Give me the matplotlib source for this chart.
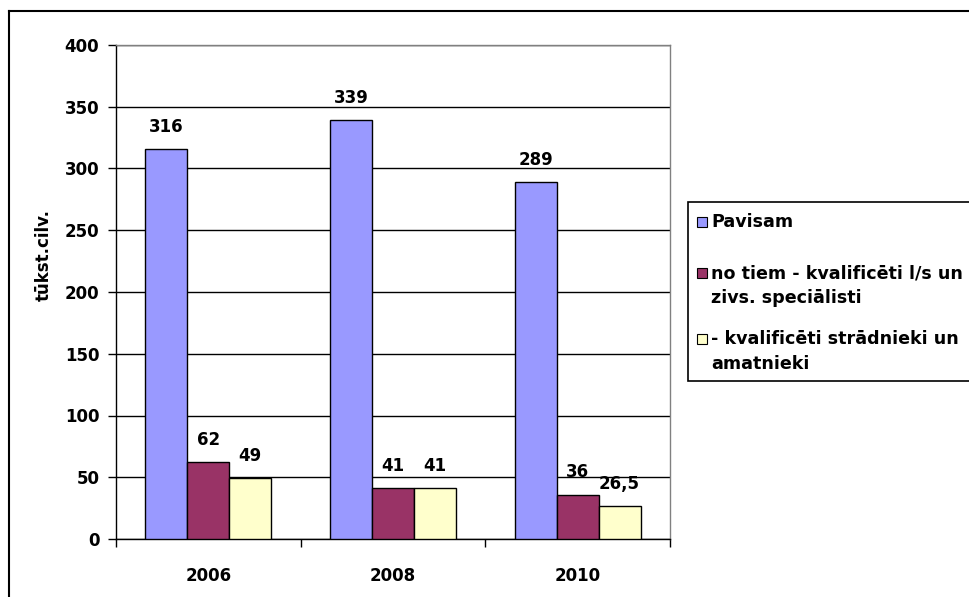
import matplotlib
matplotlib.use("Agg")
import matplotlib.pyplot as plt
from matplotlib.patches import Rectangle
from matplotlib.lines import Line2D
import numpy as np

years = ["2006", "2008", "2010"]
series_names = ["Pavisam",
                "no tiem - kvalificēti l/s un\nzivs. speciālisti",
                "- kvalificēti strādnieki un\namatnieki"]
pavisam = [316, 339, 289]
specialisti = [62, 41, 36]
stradnieki = [49, 41, 26.5]
value_labels = [["316", "339", "289"], ["62", "41", "36"], ["49", "41", "26,5"]]
colors = ["#9999FF", "#993366", "#FFFFCC"]
y_ticks = [0, 50, 100, 150, 200, 250, 300, 350, 400]
ylabel = "tūkst.cilv."

FONT = "DejaVu Sans"
FS = 12
W, H = 969, 597
fig = plt.figure(figsize=(W / 100, H / 100), dpi=100)
ax = fig.add_axes([116 / W, (H - 539) / H, 554 / W, 494 / H])

x = np.arange(len(years))
bw = 0.227
all_series = [pavisam, specialisti, stradnieki]
for i, (vals, col) in enumerate(zip(all_series, colors)):
    pos = x + (i - 1) * bw
    ax.bar(pos, vals, width=bw, color=col, edgecolor="black", linewidth=1.0, zorder=3)
    for p, v, lab in zip(pos, vals, value_labels[i]):
        ax.annotate(lab, (p, v), xytext=(0, 9.5), textcoords="offset points",
                    ha="center", va="bottom", fontsize=FS, fontweight="bold",
                    family=FONT, zorder=4)

ax.set_xlim(-0.5, 2.5)
ax.set_ylim(0, 400)
ax.set_yticks(y_ticks)
ax.set_yticklabels([str(t) for t in y_ticks], fontsize=FS, fontweight="bold", family=FONT)
ax.yaxis.grid(True, color="black", linewidth=1.0, zorder=0)
ax.set_axisbelow(True)
ax.tick_params(axis="y", direction="out", length=6, width=1, pad=6)

ax.set_xticks([-0.5, 0.5, 1.5, 2.5])
ax.set_xticklabels([])
ax.tick_params(axis="x", which="major", direction="out", length=6, width=1)
ax.set_xticks(x, minor=True)
ax.set_xticklabels(years, minor=True, fontsize=FS, fontweight="bold", family=FONT)
ax.tick_params(axis="x", which="minor", length=0, pad=20)

ax.spines["left"].set_color("black")
ax.spines["bottom"].set_color("black")
ax.spines["top"].set_color("#808080")
ax.spines["right"].set_color("#808080")
for s in ax.spines.values():
    s.set_linewidth(1.0)

ax.set_ylabel(ylabel, fontsize=FS, fontweight="bold", family=FONT)
ax.yaxis.set_label_coords(-0.114, 0.575)


def fx(px):
    return px / W


def fy(py):
    return (H - py) / H


# outer chart border (extends past the right and bottom edges)
fig.add_artist(Line2D([fx(9), fx(9)], [fy(11), fy(600)], color="black", linewidth=1.5,
                      transform=fig.transFigure))
fig.add_artist(Line2D([fx(9), fx(975)], [fy(11), fy(11)], color="black", linewidth=1.5,
                      transform=fig.transFigure))

# legend box (cut off on the right)
fig.add_artist(Rectangle((fx(688), fy(381)), fx(320), 179 / H, transform=fig.transFigure,
                         facecolor="white", edgecolor="black", linewidth=1.2, clip_on=False))
entry_y = [222, 273, 339]
for name, col, ey in zip(series_names, colors, entry_y):
    fig.add_artist(Rectangle((fx(697), fy(ey + 5)), 10 / W, 10 / H, transform=fig.transFigure,
                             facecolor=col, edgecolor="black", linewidth=0.8))
    lines = name.split("\n")
    for k, ln in enumerate(lines):
        fig.text(fx(711), fy(ey + k * 25), ln, ha="left", va="center",
                 fontsize=12.6, fontweight="bold", family=FONT)

fig.savefig("out.png", dpi=100)
